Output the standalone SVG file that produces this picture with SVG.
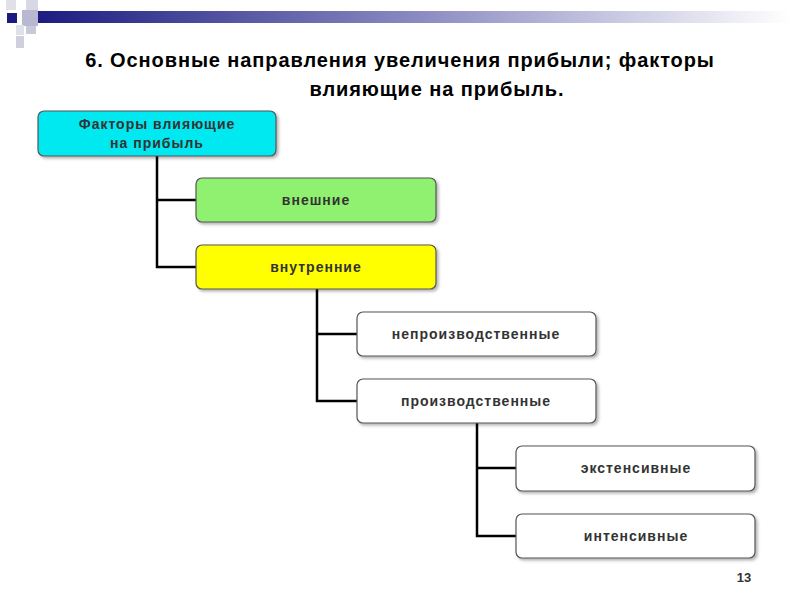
<svg xmlns="http://www.w3.org/2000/svg" width="800" height="600" viewBox="0 0 800 600">
<defs>
<linearGradient id="bar" x1="0" x2="1" y1="0" y2="0">
<stop offset="0" stop-color="#1a1a80"/><stop offset="0.5" stop-color="#8888c0"/><stop offset="1" stop-color="#ffffff"/>
</linearGradient>
<filter id="sh" x="-10%" y="-10%" width="130%" height="140%"><feDropShadow dx="2" dy="2" stdDeviation="1.5" flood-color="#000" flood-opacity="0.3"/></filter>
</defs>
<style>
.box{stroke:#555;stroke-width:1.2;filter:url(#sh)}
.t{font-family:"Liberation Sans",Arial,sans-serif;font-weight:bold;font-size:14px;letter-spacing:1px;fill:#333;text-anchor:middle}
.title{font-family:"Liberation Sans",Arial,sans-serif;font-weight:bold;font-size:20px;letter-spacing:0.9px;fill:#000}
.c{stroke:#000;stroke-width:2.5;fill:none}
</style>
<rect x="0" y="0" width="800" height="600" fill="#fff"/>
<rect x="30" y="11" width="760" height="12" fill="url(#bar)"/>
<rect x="6" y="0" width="10" height="10" fill="#e0e0ea"/>
<rect x="26" y="0" width="12" height="12" fill="#d8d8e4"/>
<rect x="7" y="13" width="10" height="10" fill="#1a1a80"/>
<rect x="22" y="10" width="16" height="16" fill="#b8b8d0"/>
<rect x="16" y="25" width="8" height="10" fill="#e0e0ea"/>
<rect x="26" y="26" width="10" height="8" fill="#c8c8d8"/>
<rect x="16" y="36" width="8" height="12" fill="#d0d0dc"/>
<text class="title" x="400" y="67" text-anchor="middle">6. Основные направления увеличения  прибыли; факторы</text>
<text class="title" x="437" y="96" text-anchor="middle">влияющие на прибыль.</text>
<g id="connectors">
<path class="c" d="M157 156V267H196M157 200H196"/>
<path class="c" d="M317 289V401H357M317 334H357"/>
<path class="c" d="M477 423V536H516M477 468H516"/>
</g>
<g id="n1"><rect class="box" x="38" y="111" width="238" height="45" rx="6" fill="#00e8f0"/><text class="t" x="157" y="129">Факторы влияющие</text><text class="t" x="157" y="148">на прибыль</text></g>
<g id="n2"><rect class="box" x="196" y="178" width="240" height="44" rx="6" fill="#90f070"/><text class="t" x="316" y="205">внешние</text></g>
<g id="n3"><rect class="box" x="196" y="245" width="240" height="44" rx="6" fill="#ffff00"/><text class="t" x="316" y="272">внутренние</text></g>
<g id="n4"><rect class="box" x="357" y="312" width="239" height="44" rx="6" fill="#fff"/><text class="t" x="476" y="339">непроизводственные</text></g>
<g id="n5"><rect class="box" x="357" y="379" width="239" height="44" rx="6" fill="#fff"/><text class="t" x="476" y="406">производственные</text></g>
<g id="n6"><rect class="box" x="516" y="446" width="239" height="45" rx="6" fill="#fff"/><text class="t" x="636" y="473">экстенсивные</text></g>
<g id="n7"><rect class="box" x="516" y="514" width="239" height="44" rx="6" fill="#fff"/><text class="t" x="636" y="541">интенсивные</text></g>
<text x="744" y="582" font-family="Liberation Sans,Arial,sans-serif" font-weight="bold" font-size="13" fill="#333" text-anchor="middle">13</text>
</svg>
